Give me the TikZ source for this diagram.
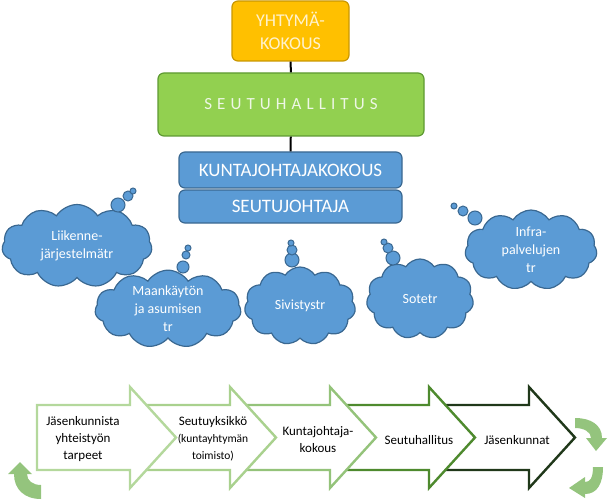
\documentclass[tikz,border=0pt]{standalone}
\usepackage{fontspec}
\setmainfont{Carlito}
\usetikzlibrary{shapes.symbols}

\definecolor{kokousfill}{HTML}{FFC000}
\definecolor{kokousedge}{HTML}{C99700}
\definecolor{kokoustext}{HTML}{FFF2CC}
\definecolor{hallfill}{HTML}{92D050}
\definecolor{halledge}{HTML}{5E9A32}
\definecolor{halltext}{HTML}{EEF7E6}
\definecolor{blufill}{HTML}{5B9BD5}
\definecolor{bluedge}{HTML}{3A6891}
\definecolor{arrowA}{HTML}{B4D89C}
\definecolor{arrowB}{HTML}{A9D18E}
\definecolor{arrowC}{HTML}{94C37A}
\definecolor{arrowD}{HTML}{4E8A2E}
\definecolor{arrowE}{HTML}{20381A}
\definecolor{kiertofill}{HTML}{94C47D}

\begin{document}
\begin{tikzpicture}[x=1pt, y=-1pt,
  orgbox/.style={rectangle, rounded corners=6pt, line width=1.2pt, inner sep=0pt, align=center},
  pilvi/.style={cloud, cloud puffs=11, cloud puff arc=115, cloud ignores aspect,
    fill=blufill, draw=bluedge, line width=1.2pt, inner sep=0pt, text=white,
    align=center, font=\fontsize{14}{18}\selectfont},
  kupla/.style={circle, fill=blufill, draw=bluedge, line width=1pt, inner sep=0pt},
  nuoli/.style={line width=2.4pt, fill=white, line join=miter},
  nuoliteksti/.style={align=center, font=\fontsize{13}{17}\selectfont},
  kierto/.style={fill=kiertofill, draw=none}]

  \useasboundingbox (0,0) rectangle (608,500);

  % organisaatio
  \node[orgbox, fill=kokousfill, draw=kokousedge, text=kokoustext,
    minimum width=117, minimum height=60, font=\fontsize{18}{23}\selectfont]
    (yk) at (290.5,31) {YHTYMÄ-\\KOKOUS};
  \node[orgbox, fill=hallfill, draw=halledge, text=halltext,
    minimum width=266, minimum height=63,
    font=\fontsize{17}{20}\selectfont\addfontfeature{LetterSpace=30}]
    (sh) at (291,104.5) {SEUTUHALLITUS};
  \node[orgbox, fill=blufill, draw=bluedge, text=white,
    minimum width=223, minimum height=36, font=\fontsize{19}{22}\selectfont]
    (kjk) at (290.5,170) {KUNTAJOHTAJAKOKOUS};
  \node[orgbox, fill=blufill, draw=bluedge, text=white,
    minimum width=223, minimum height=33, font=\fontsize{19}{22}\selectfont]
    (sj) at (290.5,206.5) {SEUTUJOHTAJA};

  \draw[line width=2pt] (yk) -- (sh);
  \draw[line width=2pt] (sh) -- (kjk);

  % toimikunnat
  \node[pilvi, minimum width=150, minimum height=83] (lj) at (77,246)
    {Liikenne-\\järjestelmätr};
  \node[pilvi, minimum width=146, minimum height=75] (ma) at (168,309)
    {Maankäytön\\ja asumisen\\tr};
  \node[pilvi, minimum width=111, minimum height=78] (si) at (300,306)
    {Sivistystr};
  \node[pilvi, minimum width=107, minimum height=80] (so) at (420,299)
    {Sotetr};
  \node[pilvi, minimum width=132, minimum height=80] (ip) at (531,250)
    {Infra-\\palvelujen\\tr};

  \node[kupla, minimum size=14] (lj1) at (118,205) {};
  \node[kupla, minimum size=10] (lj2) at (128,196) {};
  \node[kupla, minimum size=6] (lj3) at (133,191) {};
  \node[kupla, minimum size=12] (ma1) at (183,267) {};
  \node[kupla, minimum size=8] (ma2) at (186,255) {};
  \node[kupla, minimum size=6] (ma3) at (188,248) {};
  \node[kupla, minimum size=14] (si1) at (292,260) {};
  \node[kupla, minimum size=10] (si2) at (292,250) {};
  \node[kupla, minimum size=6] (si3) at (291,243) {};
  \node[kupla, minimum size=14] (so1) at (393,258) {};
  \node[kupla, minimum size=10] (so2) at (388,248) {};
  \node[kupla, minimum size=6] (so3) at (384,242) {};
  \node[kupla, minimum size=14] (ip1) at (475,218) {};
  \node[kupla, minimum size=10] (ip2) at (463,211) {};
  \node[kupla, minimum size=6] (ip3) at (454,206) {};

  % prosessi
  \foreach \xl/\xh/\col in {430/529/arrowE, 330/429/arrowD, 230/330/arrowC,
      130/230/arrowB, 37/130/arrowA}
    \draw[nuoli, draw=\col] (\xl,405) -- (\xh,405) -- (\xh,387)
      -- ({\xh+46},437.5) -- (\xh,488) -- (\xh,470) -- (\xl,470) -- cycle;

  \node[nuoliteksti] (jt) at (83,439) {Jäsenkunnista\\yhteistyön\\tarpeet};
  \node[nuoliteksti] (sy) at (213,439)
    {Seutuyksikkö\\{\fontsize{11.5}{17}\selectfont(kuntayhtymän}\\{\fontsize{11.5}{17}\selectfont toimisto)}};
  \node[nuoliteksti] (kk) at (318,440) {Kuntajohtaja-\\kokous};
  \node[nuoliteksti] (sh2) at (419,440) {Seutuhallitus};
  \node[nuoliteksti] (jk) at (517,440) {Jäsenkunnat};

  % kiertonuolet
  \fill[kierto] (8,474) -- (20,462) -- (32,474) -- (27,474)
    .. controls (27,481) and (33,485) .. (41,485) -- (41,499)
    .. controls (24,499) and (14,489) .. (14,474) -- cycle;
  \fill[kierto] (575,418) .. controls (591,418) and (602,425) .. (602,438)
    -- (607,438) -- (596,451) -- (586,438) -- (591,438)
    .. controls (591,432) and (584,428) .. (575,428) -- cycle;
  \fill[kierto] (603,467) .. controls (603,484) and (597,494) .. (585,494)
    -- (585,498) -- (569,488) -- (585,477) -- (585,482)
    .. controls (590,482) and (593,478) .. (593,467) -- cycle;
\end{tikzpicture}
\end{document}
